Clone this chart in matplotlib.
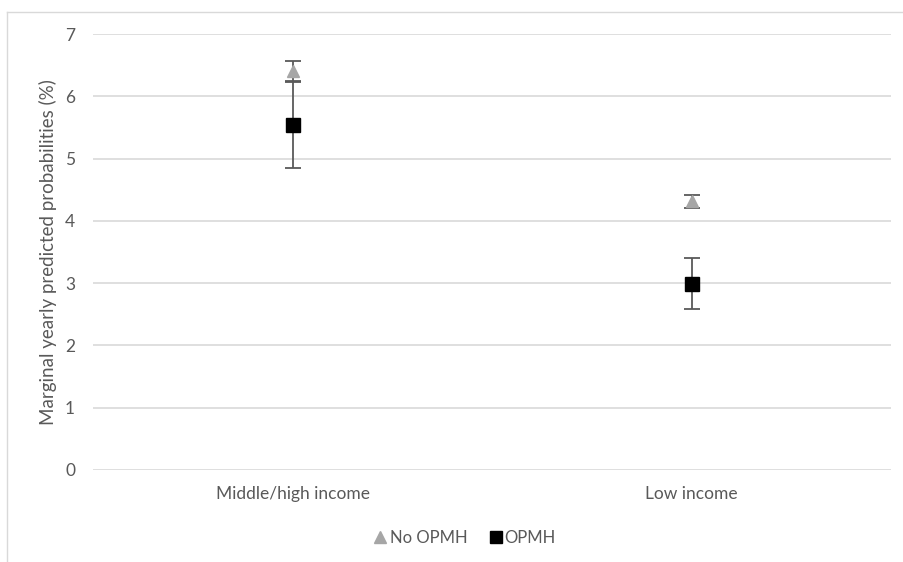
import matplotlib.pyplot as plt
from matplotlib.lines import Line2D

plt.rcParams['font.family'] = ['Lato', 'DejaVu Sans']

categories = ["Middle/high income", "Low income"]
no_opmh = [6.40, 4.31]
no_opmh_err = [0.17, 0.11]
opmh = [5.54, 2.99]
opmh_err = [0.70, 0.41]

fig = plt.figure(figsize=(9.04, 5.62), dpi=100)
ax = fig.add_axes([0.103, 0.164, 0.883, 0.7755])

x = list(range(len(categories)))
ax.errorbar(x, no_opmh, yerr=no_opmh_err, fmt='^', color='#a6a6a6', ms=9,
            ecolor='#595959', elinewidth=1.3, capsize=6, capthick=1.3, zorder=3)
ax.errorbar(x, opmh, yerr=opmh_err, fmt='s', color='black', ms=10,
            ecolor='#595959', elinewidth=1.3, capsize=6, capthick=1.3, zorder=4)

ax.set_xlim(-0.5, 1.5)
ax.set_ylim(0, 7)
ax.set_yticks(range(0, 8))
ax.set_xticks(x)
ax.set_xticklabels(categories)
ax.grid(axis='y', color='#d9d9d9', linewidth=1.2)
ax.set_axisbelow(True)
for s in ax.spines.values():
    s.set_visible(False)
ax.tick_params(length=0, colors='#595959', labelsize=12.5, pad=12)
ax.tick_params(axis='y', pad=13)
ax.set_ylabel("Marginal yearly predicted probabilities (%)", fontsize=13.5,
              color='#595959', labelpad=6)

handles = [Line2D([], [], marker='^', ls='none', color='#a6a6a6', ms=8),
           Line2D([], [], marker='s', ls='none', color='black', ms=8)]
fig.legend(handles, ['No OPMH', 'OPMH'], loc='center', bbox_to_anchor=(464/904, 1 - 538/562),
           ncol=2, frameon=False, fontsize=12, labelcolor='#595959',
           handletextpad=0.05, columnspacing=1.2, handlelength=1.0)

# outer chart border (top and left visible)
fig.add_artist(Line2D([7/904, 1.0], [1 - 12/562, 1 - 12/562], color='#d9d9d9', lw=1, transform=fig.transFigure))
fig.add_artist(Line2D([7/904, 7/904], [0, 1 - 12/562], color='#d9d9d9', lw=1, transform=fig.transFigure))

fig.savefig("out.png", dpi=100)
